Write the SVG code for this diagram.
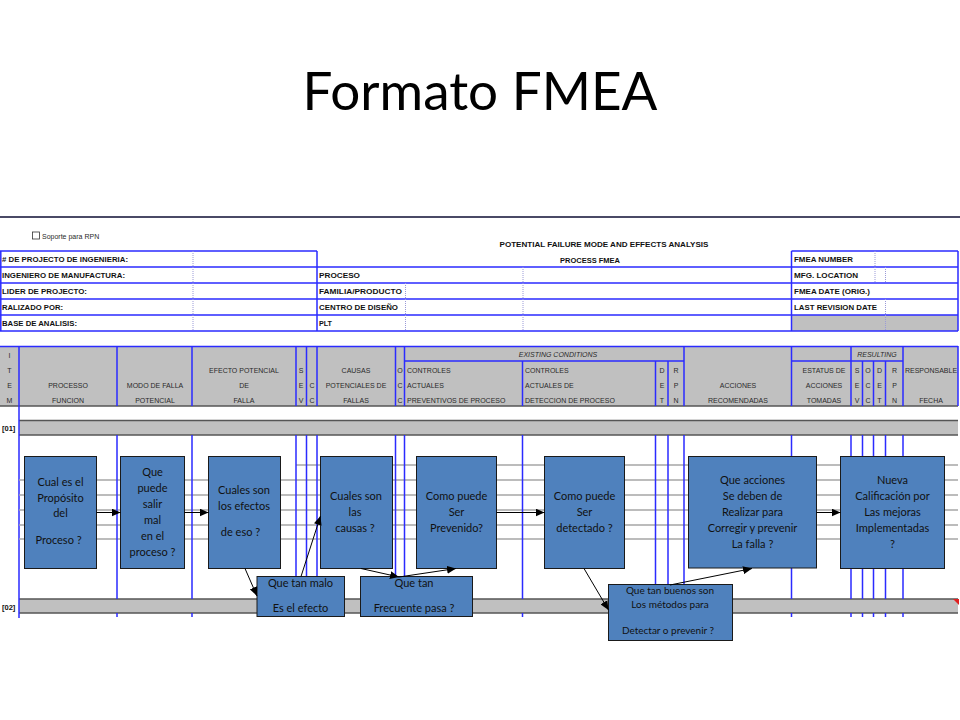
<svg xmlns="http://www.w3.org/2000/svg" width="960" height="720" viewBox="0 0 960 720">
<style>
.title{font-family:Lato,"Liberation Sans",sans-serif;font-size:53px;fill:#000}
.hb{font-family:"Liberation Sans",Arial,sans-serif;font-size:7.5px;font-weight:bold;fill:#111}
.hd{font-family:"Liberation Sans",Arial,sans-serif;font-size:7px;fill:#2a2a2a}
.hi{font-family:"Liberation Sans",Arial,sans-serif;font-size:7px;font-style:italic;fill:#2a2a2a}
.c{text-anchor:middle}
.bl{stroke:#2b2bff;stroke-width:1.5;fill:none}
.dk{stroke:#555;stroke-width:1.5;fill:none}
.dot{stroke:#9a9ad8;stroke-width:1;stroke-dasharray:1 1;fill:none}
.gl{stroke:#a6a6a6;stroke-width:1.5;fill:none}
.gray{fill:#c0c0c0}
.box{fill:#4f81bd;stroke:#1a1a1a;stroke-width:1}
.bt{font-family:Lato,"Open Sans",sans-serif;font-size:11px;fill:#111;text-anchor:middle}
.bs{font-family:Lato,"Open Sans",sans-serif;font-size:10px;fill:#111;text-anchor:middle}
.cn{stroke:#000;stroke-width:1;fill:none;marker-end:url(#ah)}
</style>
<defs>
<marker id="ah" markerUnits="userSpaceOnUse" markerWidth="10" markerHeight="8" refX="9" refY="4" orient="auto">
<path d="M0,0 L9,4 L0,8 Z" fill="#000"/>
</marker>
</defs>
<rect width="960" height="720" fill="#fff"/>
<text class="title" x="480" y="110" text-anchor="middle">Formato FMEA</text>

<g id="form-header">
<line x1="0" y1="217" x2="960" y2="217" stroke="#4a4a66" stroke-width="2"/>
<rect x="32.5" y="232" width="7" height="7" fill="#fff" stroke="#333" stroke-width="0.8"/>
<text class="hd" x="42" y="238.5" font-size="6.5">Soporte para RPN</text>
<text class="hb" x="604" y="246.5" text-anchor="middle" textLength="209" lengthAdjust="spacingAndGlyphs">POTENTIAL FAILURE MODE AND EFFECTS ANALYSIS</text>
<text class="hb" x="590" y="262.5" text-anchor="middle" textLength="60" lengthAdjust="spacingAndGlyphs">PROCESS FMEA</text>
<rect x="791.5" y="315" width="166.5" height="16" class="gray"/>
<path class="bl" d="M0,251 H317 M791.5,251 H958 M0,267 H958 M0,283 H958 M0,299 H958 M0,315 H958 M0,331 H958 M0.8,251 V331 M317,251 V331 M791.5,251 V331 M958,251 V331"/>
<path class="dot" d="M193,251 V331 M405.5,283 V331 M523,267 V331 M875,251 V283 M885.5,267 V283 M885.5,299 V331"/>
<text class="hb" x="2" y="262" textLength="126" lengthAdjust="spacingAndGlyphs"># DE PROJECTO DE INGENIERIA:</text>
<text class="hb" x="2" y="278" textLength="123" lengthAdjust="spacingAndGlyphs">INGENIERO DE MANUFACTURA:</text>
<text class="hb" x="2" y="294" textLength="85" lengthAdjust="spacingAndGlyphs">LIDER DE PROJECTO:</text>
<text class="hb" x="2" y="310" textLength="61" lengthAdjust="spacingAndGlyphs">RALIZADO POR:</text>
<text class="hb" x="2" y="326" textLength="75" lengthAdjust="spacingAndGlyphs">BASE DE ANALISIS:</text>
<text class="hb" x="319" y="278" textLength="41" lengthAdjust="spacingAndGlyphs">PROCESO</text>
<text class="hb" x="319" y="294" textLength="83" lengthAdjust="spacingAndGlyphs">FAMILIA/PRODUCTO</text>
<text class="hb" x="319" y="310" textLength="79" lengthAdjust="spacingAndGlyphs">CENTRO DE DISEÑO</text>
<text class="hb" x="319" y="326" textLength="13" lengthAdjust="spacingAndGlyphs">PLT</text>
<text class="hb" x="794" y="262" textLength="59" lengthAdjust="spacingAndGlyphs">FMEA NUMBER</text>
<text class="hb" x="794" y="278" textLength="64" lengthAdjust="spacingAndGlyphs">MFG. LOCATION</text>
<text class="hb" x="794" y="294" textLength="76" lengthAdjust="spacingAndGlyphs">FMEA DATE (ORIG.)</text>
<text class="hb" x="794" y="310" textLength="83" lengthAdjust="spacingAndGlyphs">LAST REVISION DATE</text>
</g>

<g id="column-header">
<rect x="0" y="346" width="958" height="60" class="gray"/>
<rect x="19" y="420" width="939" height="15" class="gray"/>
<rect x="19" y="599" width="939" height="14" class="gray"/>
<path class="dk" d="M0,406 H958 M19,420.5 H958 M19,435 H958 M19,599 H958 M19,613 H958"/>
<path class="bl" d="M0,346.5 H958 M404.5,361 H684 M791.5,361 H903
M19,346 V618 M117,346 V406 M192,346 V406 M296,346 V406 M306.5,346 V406 M317,346 V406 M395.5,346 V406 M404.5,346 V406 M522.5,361 V406 M655.5,361 V406 M668,361 V406 M684,346 V406 M791.5,346 V406 M851,346 V406 M862.5,361 V406 M873.5,361 V406 M885.5,361 V406 M903,346 V406 M958,346 V406"/>
<text class="hi c" x="558" y="357">EXISTING CONDITIONS</text>
<text class="hi c" x="877" y="357">RESULTING</text>
<g class="hd c">
<text x="9.5" y="357.5">I</text><text x="9.5" y="372.5">T</text><text x="9.5" y="387.5">E</text><text x="9.5" y="402.5">M</text>
<text x="68" y="387.5">PROCESSO</text><text x="68" y="402.5">FUNCION</text>
<text x="155" y="387.5">MODO DE FALLA</text><text x="155" y="402.5">POTENCIAL</text>
<text x="244" y="372.5">EFECTO POTENCIAL</text><text x="244" y="387.5">DE</text><text x="244" y="402.5">FALLA</text>
<text x="301" y="372.5">S</text><text x="301" y="387.5">E</text><text x="301" y="402.5">V</text>
<text x="312" y="387.5">C</text><text x="312" y="402.5">C</text>
<text x="356" y="372.5">CAUSAS</text><text x="356" y="387.5">POTENCIALES DE</text><text x="356" y="402.5">FALLAS</text>
<text x="400" y="372.5">O</text><text x="400" y="387.5">C</text><text x="400" y="402.5">C</text>
<text x="662" y="372.5">D</text><text x="662" y="387.5">E</text><text x="662" y="402.5">T</text>
<text x="676" y="372.5">R</text><text x="676" y="387.5">P</text><text x="676" y="402.5">N</text>
<text x="738" y="387.5">ACCIONES</text><text x="738" y="402.5">RECOMENDADAS</text>
<text x="824" y="372.5">ESTATUS DE</text><text x="824" y="387.5">ACCIONES</text><text x="824" y="402.5">TOMADAS</text>
<text x="857" y="372.5">S</text><text x="857" y="387.5">E</text><text x="857" y="402.5">V</text>
<text x="868" y="372.5">O</text><text x="868" y="387.5">C</text><text x="868" y="402.5">C</text>
<text x="879.5" y="372.5">D</text><text x="879.5" y="387.5">E</text><text x="879.5" y="402.5">T</text>
<text x="894.5" y="372.5">R</text><text x="894.5" y="387.5">P</text><text x="894.5" y="402.5">N</text>
<text x="931" y="372.5">RESPONSABLE</text><text x="931" y="402.5">FECHA</text>
</g>
<g class="hd">
<text x="407" y="372.5">CONTROLES</text><text x="407" y="387.5">ACTUALES</text><text x="407" y="402.5">PREVENTIVOS DE PROCESO</text>
<text x="525" y="372.5">CONTROLES</text><text x="525" y="387.5">ACTUALES DE</text><text x="525" y="402.5">DETECCION DE PROCESO</text>
</g>
<text class="hb" x="2" y="431" font-size="8">[01]</text>
<text class="hb" x="2" y="609.5" font-size="8">[02]</text>
<path class="gl" d="M296,465 H958 M19,480 H958 M19,495 H958 M19,510 H958 M19,525 H958 M19,539 H958"/>
<path class="bl" d="M117,435 V599 M192,435 V599 M296,435 V599 M306.5,435 V599 M317,435 V599 M395.5,435 V599 M404.5,435 V599 M522.5,435 V599 M655.5,435 V599 M668,435 V599 M684,435 V599 M791.5,435 V599 M851,435 V599 M862.5,435 V599 M873.5,435 V599 M885.5,435 V599 M903,435 V599
M117,613 V617 M192,613 V617 M296,613 V617 M306.5,613 V617 M317,613 V617 M395.5,613 V617 M404.5,613 V617 M522.5,613 V617 M655.5,613 V617 M668,613 V617 M684,613 V617 M791.5,613 V617 M851,613 V617 M862.5,613 V617 M873.5,613 V617 M885.5,613 V617 M903,613 V617"/>
<polygon points="953,599 959,599 959,605" fill="#e02020"/>
</g>

<g id="proposito">
<rect class="box" x="24.5" y="456.5" width="72" height="112"/>
<text class="bt"><tspan x="60.5" y="486">Cual es el</tspan><tspan x="60.5" y="502">Propósito</tspan><tspan x="60.5" y="517">del</tspan><tspan x="58.5" y="544">Proceso ?</tspan></text>
</g>
<g id="modo-falla">
<rect class="box" x="120.5" y="456.5" width="64" height="112"/>
<text class="bt"><tspan x="152.5" y="476">Que</tspan><tspan x="152.5" y="492">puede</tspan><tspan x="152.5" y="508">salir</tspan><tspan x="152.5" y="524">mal</tspan><tspan x="152.5" y="540">en el</tspan><tspan x="152.5" y="556">proceso ?</tspan></text>
</g>
<g id="efectos">
<rect class="box" x="208.5" y="456.5" width="72" height="112"/>
<text class="bt"><tspan x="244" y="494">Cuales son</tspan><tspan x="244" y="510">los efectos</tspan><tspan x="240.5" y="536">de eso ?</tspan></text>
</g>
<g id="severidad">
<rect class="box" x="257" y="576.5" width="87.5" height="40"/>
<text class="bt"><tspan x="300.5" y="587">Que tan malo</tspan><tspan x="300.5" y="612">Es el efecto</tspan></text>
</g>
<g id="causas">
<rect class="box" x="320.5" y="456.5" width="72" height="112"/>
<text class="bt"><tspan x="356" y="500">Cuales son</tspan><tspan x="355" y="516">las</tspan><tspan x="355" y="532">causas ?</tspan></text>
</g>
<g id="ocurrencia">
<rect class="box" x="360.5" y="576.5" width="112" height="40"/>
<text class="bt"><tspan x="414" y="586.5">Que tan</tspan><tspan x="414" y="612">Frecuente pasa ?</tspan></text>
</g>
<g id="prevencion">
<rect class="box" x="416.5" y="456.5" width="80" height="112"/>
<text class="bt"><tspan x="456.5" y="500">Como puede</tspan><tspan x="456.5" y="516">Ser</tspan><tspan x="456.5" y="532">Prevenido?</tspan></text>
</g>
<g id="deteccion">
<rect class="box" x="544.5" y="456.5" width="80" height="112"/>
<text class="bt"><tspan x="584.5" y="500">Como puede</tspan><tspan x="584.5" y="516">Ser</tspan><tspan x="584.5" y="532">detectado ?</tspan></text>
</g>
<g id="metodos">
<rect class="box" x="608.5" y="584.5" width="124" height="56"/>
<text class="bs"><tspan x="670" y="594">Que tan buenos son</tspan><tspan x="670" y="608">Los métodos para</tspan><tspan x="668" y="634">Detectar o prevenir ?</tspan></text>
</g>
<g id="acciones">
<rect class="box" x="688.5" y="456.5" width="128" height="111.5"/>
<text class="bt"><tspan x="752.5" y="484">Que acciones</tspan><tspan x="752.5" y="500">Se deben de</tspan><tspan x="752.5" y="516">Realizar para</tspan><tspan x="752.5" y="532">Corregir y prevenir</tspan><tspan x="752.5" y="548">La falla ?</tspan></text>
</g>
<g id="nueva-calificacion">
<rect class="box" x="840.5" y="456.5" width="104" height="112"/>
<text class="bt"><tspan x="892.5" y="484">Nueva</tspan><tspan x="892.5" y="500">Calificación por</tspan><tspan x="892.5" y="516">Las mejoras</tspan><tspan x="892.5" y="532">Implementadas</tspan><tspan x="892.5" y="548">?</tspan></text>
</g>

<g id="connectors">
<line class="cn" x1="96.5" y1="512.5" x2="120.5" y2="512.5"/>
<line class="cn" x1="184.5" y1="512.5" x2="208.5" y2="512.5"/>
<line class="cn" x1="245" y1="568.5" x2="257" y2="596"/>
<line class="cn" x1="301" y1="576.5" x2="320.5" y2="516"/>
<line class="cn" x1="361" y1="568.5" x2="399" y2="577"/>
<line class="cn" x1="399" y1="577" x2="456" y2="568.5"/>
<line class="cn" x1="496.5" y1="512.5" x2="544.5" y2="512.5"/>
<line class="cn" x1="584" y1="568.5" x2="608.5" y2="610"/>
<line class="cn" x1="670" y1="585" x2="752" y2="568.5"/>
<line class="cn" x1="816.5" y1="512.5" x2="840.5" y2="512.5"/>
</g>
</svg>
